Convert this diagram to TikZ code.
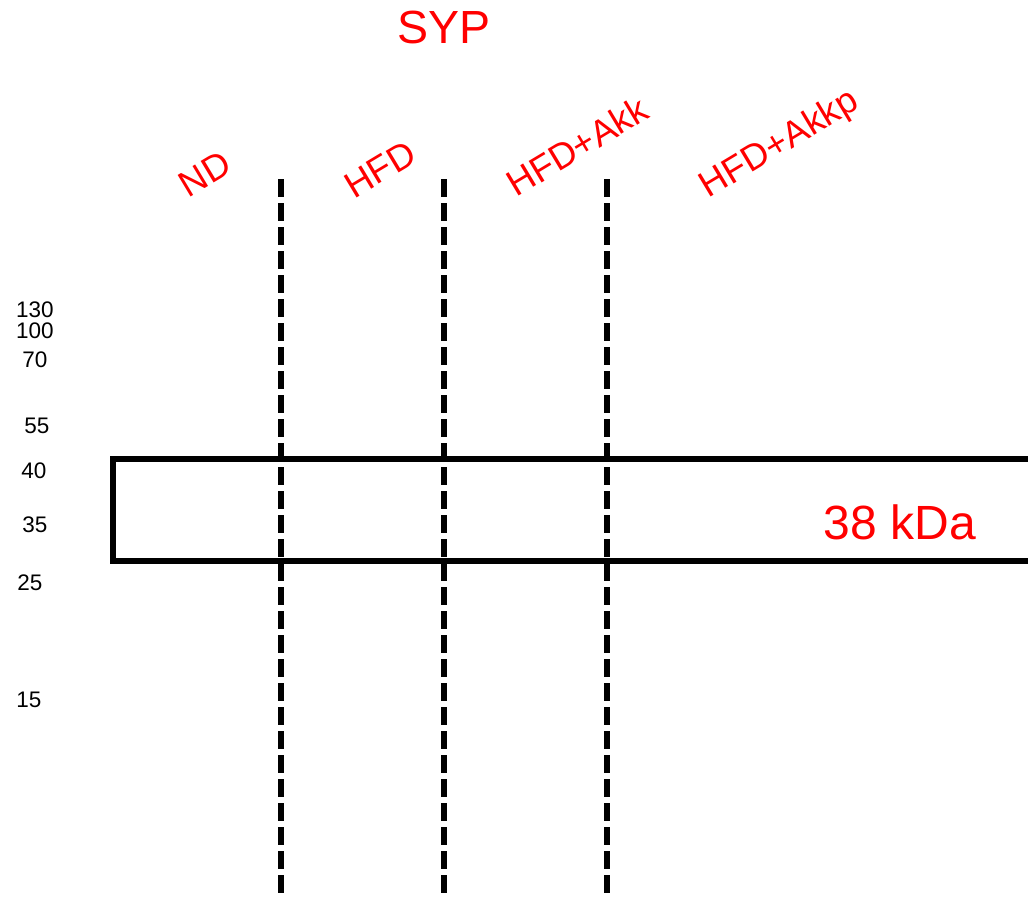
\documentclass[tikz,border=0pt]{standalone}
\usepackage{fontspec}
\setmainfont{Liberation Sans}
\tikzset{
  marker/.style = {font=\fontsize{22.5}{24}\selectfont, inner sep=0pt},
  lane/.style = {font=\fontsize{36.5}{40}\selectfont, text=red, rotate=31, inner sep=0pt},
  sep/.style = {line width=5.5pt, dash pattern=on 18pt off 6pt}
}
\begin{document}
\begin{tikzpicture}[x=1pt, y=-1pt]
\useasboundingbox (0,0) rectangle (1028,899);

\node[font=\fontsize{46.5}{50}\selectfont, text=red, inner sep=0pt] (title) at (444,27) {SYP};

\node[lane] (nd) at (205,174) {ND};
\node[lane] (hfd) at (380,169) {HFD};
\node[lane] (akk) at (577,146) {HFD+Akk};
\node[lane] (akkp) at (780,145) {HFD+Akkp};

\foreach \a in {281,444,607} {\draw[sep] (\a,179) -- (\a,893);}

\draw[line width=6pt] (1028,458.5) -- (113,458.5) -- (113,560.5) -- (1028,560.5);
\node[font=\fontsize{48}{52}\selectfont, text=red, inner sep=0pt] (band) at (900,522) {38 kDa};

\foreach \m/\x/\y in {130/35/310,100/35/331,70/35/360,55/37/426,40/34/471,35/35/525,25/30/583,15/29/700} {\node[marker] (m\m) at (\x,\y) {\m};}

\end{tikzpicture}
\end{document}
